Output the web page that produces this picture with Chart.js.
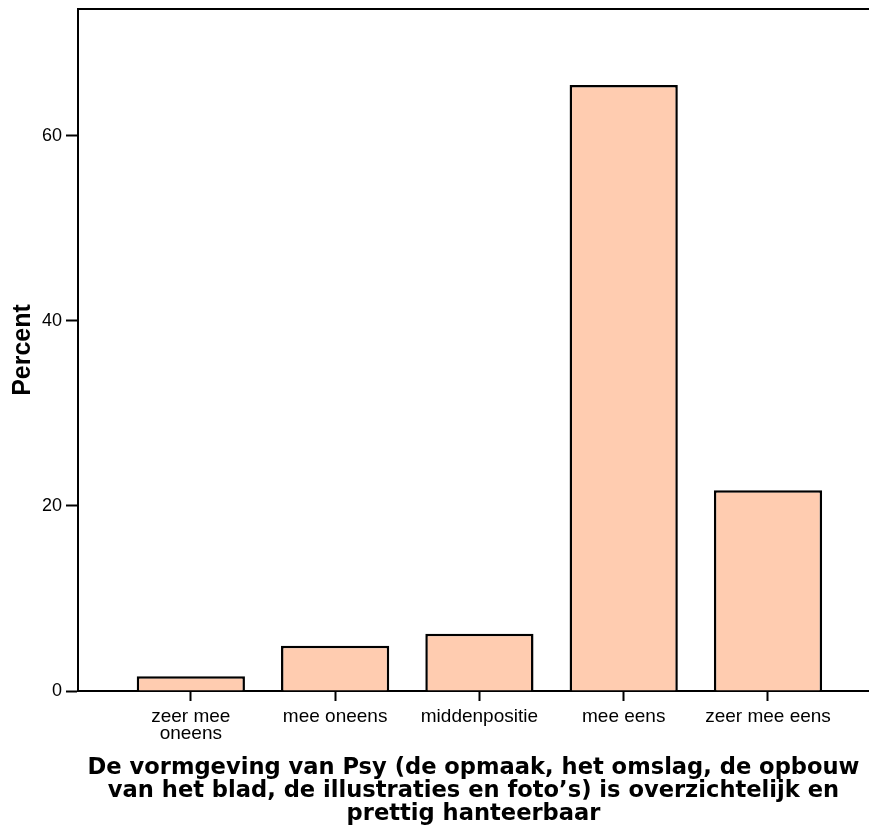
<!DOCTYPE html>
<html>
<head>
<meta charset="utf-8">
<script src="https://cdn.jsdelivr.net/npm/chart.js@4"></script>
<style>
	body { margin: 0; background: #fff; }
</style>
</head>
<body>
<canvas id="chart" width="869" height="832"></canvas>
<script>
let categories = [['zeer mee', 'oneens'], 'mee oneens', 'middenpositie', 'mee eens', 'zeer mee eens']
let percentValues = [1.6, 4.9, 6.2, 65.5, 21.7]
let yTickValues = [0, 20, 40, 60]
let xTitleLines = [
	'De vormgeving van Psy (de opmaak, het omslag, de opbouw',
	'van het blad, de illustraties en foto\u2019s) is overzichtelijk en',
	'prettig hanteerbaar'
]

// top frame line, the source has no right border
let topLine = {
	id: 'topLine',
	afterDraw(chart) {
		let ctx = chart.ctx
		let area = chart.chartArea
		ctx.save()
		ctx.strokeStyle = '#000'
		ctx.lineWidth = 2
		ctx.beginPath()
		ctx.moveTo(area.left - 1, area.top)
		ctx.lineTo(area.right, area.top)
		ctx.stroke()
		ctx.restore()
	}
}

let ctx = document.getElementById('chart').getContext('2d')

let percentChart = new Chart(ctx, {
	type: 'bar',
	data: {
		datasets: [
			{
				label: 'Percent',
				data: percentValues.map(function (v, i) { return { x: i, y: v } }),
				backgroundColor: '#ffccb0',
				borderColor: '#000',
				borderWidth: 2.5,
				categoryPercentage: 1,
				barPercentage: 0.75
			}
		]
	},
	options: {
		responsive: false,
		animation: false,
		layout: {
			padding: { top: 9, right: 0, left: 0, bottom: 0 }
		},
		scales: {
			x: {
				type: 'linear',
				offset: false,
				min: -0.782,
				max: 4.70,
				afterBuildTicks: function (scale) {
					scale.ticks = categories.map(function (c, i) { return { value: i } })
				},
				afterFit: function (scale) {
					scale.height = 141
					scale.paddingLeft = 0
					scale.paddingRight = 0
				},
				ticks: {
					color: '#000',
					padding: 7,
					maxRotation: 0,
					autoSkip: false,
					font: { family: 'Liberation Sans', size: 19, lineHeight: 0.92 },
					callback: function (value) {
						return categories[value]
					}
				},
				grid: {
					offset: false,
					drawOnChartArea: false,
					drawTicks: true,
					tickLength: 10,
					tickWidth: 2,
					color: '#000'
				},
				border: { color: '#000', width: 2 },
				title: {
					display: true,
					text: xTitleLines,
					color: '#000',
					padding: { top: 0, bottom: 6 },
					font: { family: 'DejaVu Sans', size: 22.6, weight: 'bold', lineHeight: 1.03 }
				}
			},
			y: {
				min: 0,
				max: 73.7,
				afterBuildTicks: function (scale) {
					scale.ticks = yTickValues.map(function (v) { return { value: v } })
				},
				afterFit: function (scale) {
					scale.width = 78
					scale.paddingTop = 0
					scale.paddingBottom = 0
				},
				ticks: {
					color: '#000',
					padding: 4,
					font: { family: 'Liberation Sans', size: 18 }
				},
				grid: {
					drawOnChartArea: false,
					drawTicks: true,
					tickLength: 12,
					tickWidth: 2,
					color: '#000'
				},
				border: { color: '#000', width: 2 },
				title: {
					display: true,
					text: 'Percent',
					color: '#000',
					padding: { top: 8, bottom: 0 },
					font: { family: 'Liberation Sans', size: 25, weight: 'bold' }
				}
			}
		},
		plugins: {
			legend: { display: false },
			tooltip: { enabled: false }
		}
	},
	plugins: [topLine]
});
</script>
</body>
</html>
